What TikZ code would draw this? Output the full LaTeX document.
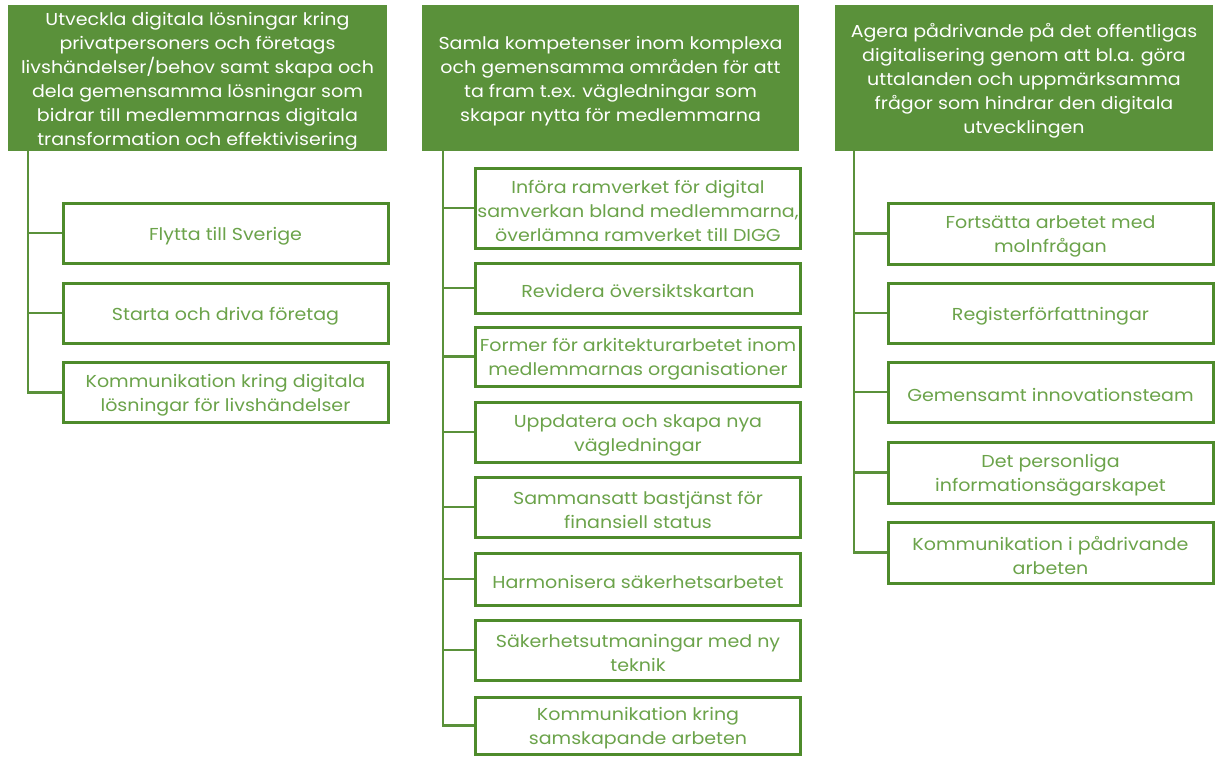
\documentclass[tikz,border=0pt]{standalone}
\usepackage{fontspec}
\setmainfont{Poppins}[FakeStretch=1.1]
\definecolor{hdrfill}{HTML}{5A913A}
\definecolor{brd}{HTML}{4E8B2B}
\definecolor{ctext}{HTML}{6BA34A}
\definecolor{conn}{HTML}{5A913A}
\begin{document}
\begin{tikzpicture}[x=1pt,y=-1pt,
  txt/.style={inner sep=0pt,align=center,yshift=-3pt,font=\fontsize{17.3}{24}\selectfont},
  htxt/.style={txt,text=white},
  ctxt/.style={txt,text=ctext},
  hdr/.style={fill=hdrfill,draw=none,inner sep=0pt,minimum height=146pt,
    label={[htxt]center:#1}},
  child/.style={draw=brd,line width=3pt,fill=white,inner sep=0pt,
    minimum width=325pt,label={[ctxt]center:#1}},
  link/.style={draw=conn,line width=2.2pt}]
\useasboundingbox (0,0) rectangle (1221,756);
% headers
\node[hdr={Utveckla digitala lösningar kring\\privatpersoners och företags\\livshändelser/behov samt skapa och\\dela gemensamma lösningar som\\bidrar till medlemmarnas digitala\\transformation och effektivisering},minimum width=379pt] (hL) at (197.5,78) {};
\node[hdr={Samla kompetenser inom komplexa\\och gemensamma områden för att\\ta fram t.ex. vägledningar som\\skapar nytta för medlemmarna},minimum width=377pt] (hM) at (610.5,78) {};
\node[hdr={Agera pådrivande på det offentligas\\digitalisering genom att bl.a. göra\\uttalanden och uppmärksamma\\frågor som hindrar den digitala\\utvecklingen},minimum width=378pt] (hR) at (1024,78) {};
\coordinate (tL) at (28,151);
\coordinate (tM) at (443,151);
\coordinate (tR) at (854,151);
% left children
\node[child={Flytta till Sverige},minimum height=60pt] (l1) at (225.5,233) {};
\node[child={Starta och driva företag},minimum height=60pt] (l2) at (225.5,313) {};
\node[child={Kommunikation kring digitala\\lösningar för livshändelser},minimum height=60pt] (l3) at (225.5,392.5) {};
% middle children
\node[child={Införa ramverket för digital\\samverkan bland medlemmarna,\\överlämna ramverket till DIGG},minimum height=80pt] (m1) at (638,208) {};
\node[child={Revidera översiktskartan},minimum height=50pt] (m2) at (638,288) {};
\node[child={Former för arkitekturarbetet inom\\medlemmarnas organisationer},minimum height=59pt] (m3) at (638,356.5) {};
\node[child={Uppdatera och skapa nya\\vägledningar},minimum height=60pt] (m4) at (638,432) {};
\node[child={Sammansatt bastjänst för\\finansiell status},minimum height=60pt] (m5) at (638,507) {};
\node[child={Harmonisera säkerhetsarbetet},minimum height=52pt] (m6) at (638,579) {};
\node[child={Säkerhetsutmaningar med ny\\teknik},minimum height=60pt] (m7) at (638,650) {};
\node[child={Kommunikation kring\\samskapande arbeten},minimum height=57pt] (m8) at (638,725.5) {};
% right children
\node[child={Fortsätta arbetet med\\molnfrågan},minimum height=61pt] (r1) at (1050.5,233.5) {};
\node[child={Registerförfattningar},minimum height=60pt] (r2) at (1050.5,313) {};
\node[child={Gemensamt innovationsteam},minimum height=60pt] (r3) at (1050.5,392) {};
\node[child={Det personliga\\informationsägarskapet},minimum height=61pt] (r4) at (1050.5,472.5) {};
\node[child={Kommunikation i pådrivande\\arbeten},minimum height=61pt] (r5) at (1050.5,552.5) {};
% connectors
\draw[link] (tL) |- (l3.west);
\foreach \n in {l1,l2} \draw[link] (\n.west -| tL) -- (\n.west);
\draw[link] (tM) |- (m8.west);
\foreach \n in {m1,m2,m3,m4,m5,m6,m7} \draw[link] (\n.west -| tM) -- (\n.west);
\draw[link] (tR) |- (r5.west);
\foreach \n in {r1,r2,r3,r4} \draw[link] (\n.west -| tR) -- (\n.west);
\end{tikzpicture}
\end{document}
